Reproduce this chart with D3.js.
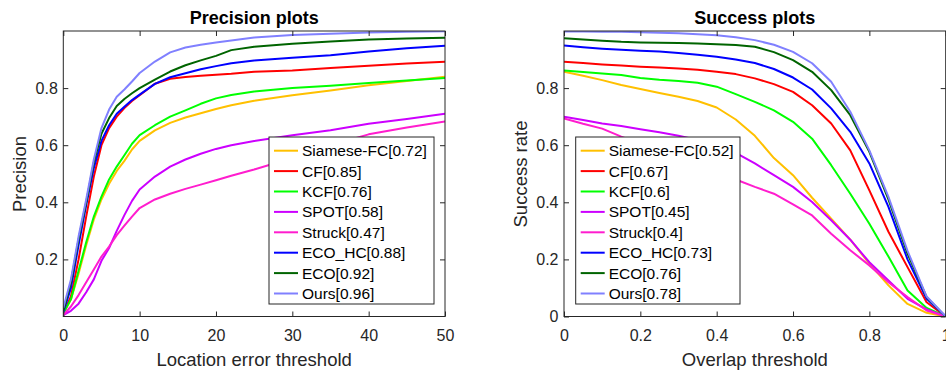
<!DOCTYPE html>
<html><head><meta charset="utf-8">
<script src="https://cdn.jsdelivr.net/npm/d3@7"></script>
<style>
html,body{margin:0;padding:0;background:#fff;overflow:hidden;}
svg{display:block;font-family:"Liberation Sans",Arial,Helvetica,sans-serif;}
</style></head><body>
<svg id="chart" width="946" height="370"></svg>
<script>
// ---------- data ----------
const names = ["Siamese-FC","CF","KCF","SPOT","Struck","ECO_HC","ECO","Ours"];
const colors = ["#FFC000","#FF0000","#00FF00","#CC00FF","#FF1DCE","#0000FF","#006400","#8080FF"];
const precScores = ["0.72","0.85","0.76","0.58","0.47","0.88","0.92","0.96"];
const succScores = ["0.52","0.67","0.6","0.45","0.4","0.73","0.76","0.78"];

const precThresholds = [0,1,2,3,4,5,6,7,8,9,10,12,14,16,18,20,22,25,30,35,40,45,50];
const precSiamese = [0.01,0.06,0.15,0.25,0.34,0.41,0.465,0.51,0.545,0.585,0.615,0.652,0.678,0.697,0.712,0.727,0.74,0.756,0.775,0.792,0.81,0.825,0.84];
const precCF      = [0.01,0.07,0.20,0.35,0.49,0.60,0.66,0.70,0.73,0.755,0.775,0.815,0.833,0.839,0.843,0.847,0.85,0.857,0.862,0.87,0.878,0.886,0.892];
const precKCF     = [0.01,0.06,0.16,0.26,0.35,0.42,0.48,0.525,0.565,0.605,0.635,0.67,0.70,0.722,0.745,0.764,0.776,0.788,0.80,0.808,0.818,0.827,0.835];
const precSPOT    = [0.005,0.02,0.045,0.085,0.13,0.195,0.24,0.30,0.355,0.405,0.445,0.49,0.525,0.55,0.57,0.587,0.60,0.615,0.635,0.652,0.675,0.692,0.71];
const precStruck  = [0.005,0.035,0.075,0.12,0.165,0.21,0.245,0.285,0.318,0.35,0.38,0.41,0.43,0.447,0.462,0.477,0.493,0.515,0.555,0.60,0.638,0.662,0.683];
const precECOHC   = [0.015,0.10,0.25,0.39,0.52,0.615,0.67,0.71,0.735,0.758,0.777,0.815,0.838,0.852,0.866,0.877,0.887,0.897,0.906,0.915,0.928,0.94,0.948];
const precECO     = [0.02,0.12,0.27,0.40,0.54,0.64,0.695,0.737,0.762,0.782,0.80,0.83,0.858,0.88,0.897,0.913,0.933,0.945,0.955,0.963,0.97,0.974,0.976];
const precOurs    = [0.03,0.13,0.28,0.41,0.55,0.66,0.725,0.77,0.795,0.823,0.853,0.893,0.925,0.942,0.952,0.96,0.967,0.977,0.986,0.99,0.995,0.997,0.999];

const succThresholds = [0,0.05,0.1,0.15,0.2,0.25,0.3,0.35,0.4,0.45,0.5,0.55,0.6,0.65,0.7,0.75,0.8,0.85,0.9,0.95,1];
const succSiamese = [0.857,0.843,0.828,0.811,0.797,0.783,0.77,0.755,0.732,0.69,0.633,0.555,0.495,0.416,0.343,0.269,0.185,0.109,0.044,0.013,0];
const succCF      = [0.892,0.888,0.883,0.879,0.875,0.872,0.869,0.864,0.857,0.849,0.834,0.814,0.787,0.74,0.676,0.582,0.442,0.297,0.173,0.05,0];
const succKCF     = [0.862,0.856,0.851,0.846,0.835,0.829,0.825,0.819,0.805,0.779,0.752,0.722,0.682,0.623,0.53,0.43,0.325,0.21,0.091,0.03,0];
const succSPOT    = [0.70,0.688,0.676,0.667,0.656,0.645,0.633,0.618,0.60,0.573,0.536,0.495,0.454,0.401,0.337,0.269,0.19,0.126,0.062,0.025,0];
const succStruck  = [0.694,0.675,0.658,0.63,0.605,0.58,0.555,0.53,0.505,0.48,0.454,0.43,0.393,0.354,0.29,0.232,0.179,0.12,0.068,0.021,0];
const succECOHC   = [0.949,0.943,0.938,0.934,0.931,0.928,0.923,0.917,0.91,0.9,0.888,0.867,0.837,0.795,0.729,0.647,0.536,0.384,0.2,0.062,0];
const succECO     = [0.975,0.97,0.966,0.962,0.96,0.959,0.958,0.956,0.954,0.951,0.945,0.926,0.898,0.857,0.793,0.705,0.577,0.41,0.22,0.068,0];
const succOurs    = [0.998,0.998,0.997,0.997,0.996,0.994,0.992,0.989,0.985,0.978,0.968,0.952,0.927,0.887,0.822,0.717,0.582,0.419,0.23,0.07,0];

const precSeries = [precSiamese,precCF,precKCF,precSPOT,precStruck,precECOHC,precECO,precOurs];
const succSeries = [succSiamese,succCF,succKCF,succSPOT,succStruck,succECOHC,succECO,succOurs];

const precXTicks = [0,10,20,30,40,50];
const precYTicks = [0.2,0.4,0.6,0.8];
const succXTicks = [0,0.2,0.4,0.6,0.8,1];
const succYTicks = [0,0.2,0.4,0.6,0.8];

// ---------- drawing ----------
const svg = d3.select("#chart");
const axisColor = "#262626";

function panel(cfg){
  const g = svg.append("g");
  const x = d3.scaleLinear().domain(cfg.xDomain).range([cfg.x0, cfg.x1]);
  const y = d3.scaleLinear().domain([0,1]).range([316.5, 31]);
  const clipId = "clip"+cfg.id;
  svg.append("clipPath").attr("id",clipId).append("rect")
    .attr("x",cfg.x0).attr("y",31).attr("width",cfg.x1-cfg.x0).attr("height",316.5-31);

  // lines
  const line = d3.line().x(d=>x(d[0])).y(d=>y(d[1]));
  cfg.series.forEach((s,i)=>{
    g.append("path").datum(cfg.thresholds.map((t,j)=>[t,s[j]]))
      .attr("d",line).attr("fill","none").attr("stroke",colors[i])
      .attr("stroke-width",2).attr("stroke-linejoin","round")
      .attr("clip-path",`url(#${clipId})`);
  });

  // axes
  const fmt = d3.format("~g");
  const ax = g.append("g").attr("transform",`translate(0,${y(0)})`)
    .call(d3.axisBottom(x).tickValues(cfg.xTicks).tickSize(-5).tickPadding(13).tickFormat(fmt));
  const axT = g.append("g").attr("transform",`translate(0,${y(1)})`)
    .call(d3.axisTop(x).tickValues(cfg.xTicks).tickSize(-5).tickFormat(""));
  const ay = g.append("g").attr("transform",`translate(${cfg.x0},0)`)
    .call(d3.axisLeft(y).tickValues(cfg.yTicks).tickSize(-5).tickPadding(5.5).tickFormat(fmt));
  const ayR = g.append("g").attr("transform",`translate(${cfg.x1},0)`)
    .call(d3.axisRight(y).tickValues(cfg.yTicks).tickSize(-5).tickFormat(""));
  [ax,axT,ay,ayR].forEach(a=>{
    a.select(".domain").remove();
    a.selectAll(".tick line").attr("stroke",axisColor).attr("stroke-width",1);
    a.selectAll(".tick text").attr("fill",axisColor).style("font-size","16px")
      .style("font-family",'"Liberation Sans",Arial,sans-serif');
  });
  g.append("rect").attr("x",cfg.x0).attr("y",y(1)).attr("width",cfg.x1-cfg.x0)
    .attr("height",y(0)-y(1)).attr("fill","none").attr("stroke",axisColor).attr("stroke-width",1);

  // title & labels
  const cx = (cfg.x0+cfg.x1)/2;
  g.append("text").attr("x",cx).attr("y",24).attr("text-anchor","middle")
    .style("font-size","18px").style("font-weight","bold").attr("fill","#000").text(cfg.title);
  g.append("text").attr("x",cx).attr("y",366).attr("text-anchor","middle")
    .style("font-size","18.5px").attr("fill",axisColor).text(cfg.xLabel);
  g.append("text").attr("transform",`translate(${cfg.yLabelX},174) rotate(-90)`)
    .attr("text-anchor","middle").style("font-size","18.5px").attr("fill",axisColor).text(cfg.yLabel);

  // legend
  const L = cfg.legend;
  const lg = g.append("g");
  lg.append("rect").attr("x",L.x).attr("y",137).attr("width",L.w).attr("height",167)
    .attr("fill","#fff").attr("stroke",axisColor).attr("stroke-width",1);
  names.forEach((n,i)=>{
    const yy = 150.7 + 20.4*i;
    lg.append("line").attr("x1",L.x+5).attr("x2",L.x+29).attr("y1",yy).attr("y2",yy)
      .attr("stroke",colors[i]).attr("stroke-width",2);
    lg.append("text").attr("x",L.x+33).attr("y",yy).attr("dy","0.36em")
      .style("font-size","15.5px").attr("fill","#000").text(`${n}[${cfg.scores[i]}]`);
  });
}

panel({id:"p",x0:63.3,x1:445,xDomain:[0,50],thresholds:precThresholds,series:precSeries,
  xTicks:precXTicks,yTicks:precYTicks,title:"Precision plots",xLabel:"Location error threshold",
  yLabel:"Precision",yLabelX:26,scores:precScores,legend:{x:269,w:165}});
panel({id:"s",x0:564,x1:945.7,xDomain:[0,1],thresholds:succThresholds,series:succSeries,
  xTicks:succXTicks,yTicks:succYTicks,title:"Success plots",xLabel:"Overlap threshold",
  yLabel:"Success rate",yLabelX:526.5,scores:succScores,legend:{x:575.7,w:164.3}});
</script>
</body></html>
